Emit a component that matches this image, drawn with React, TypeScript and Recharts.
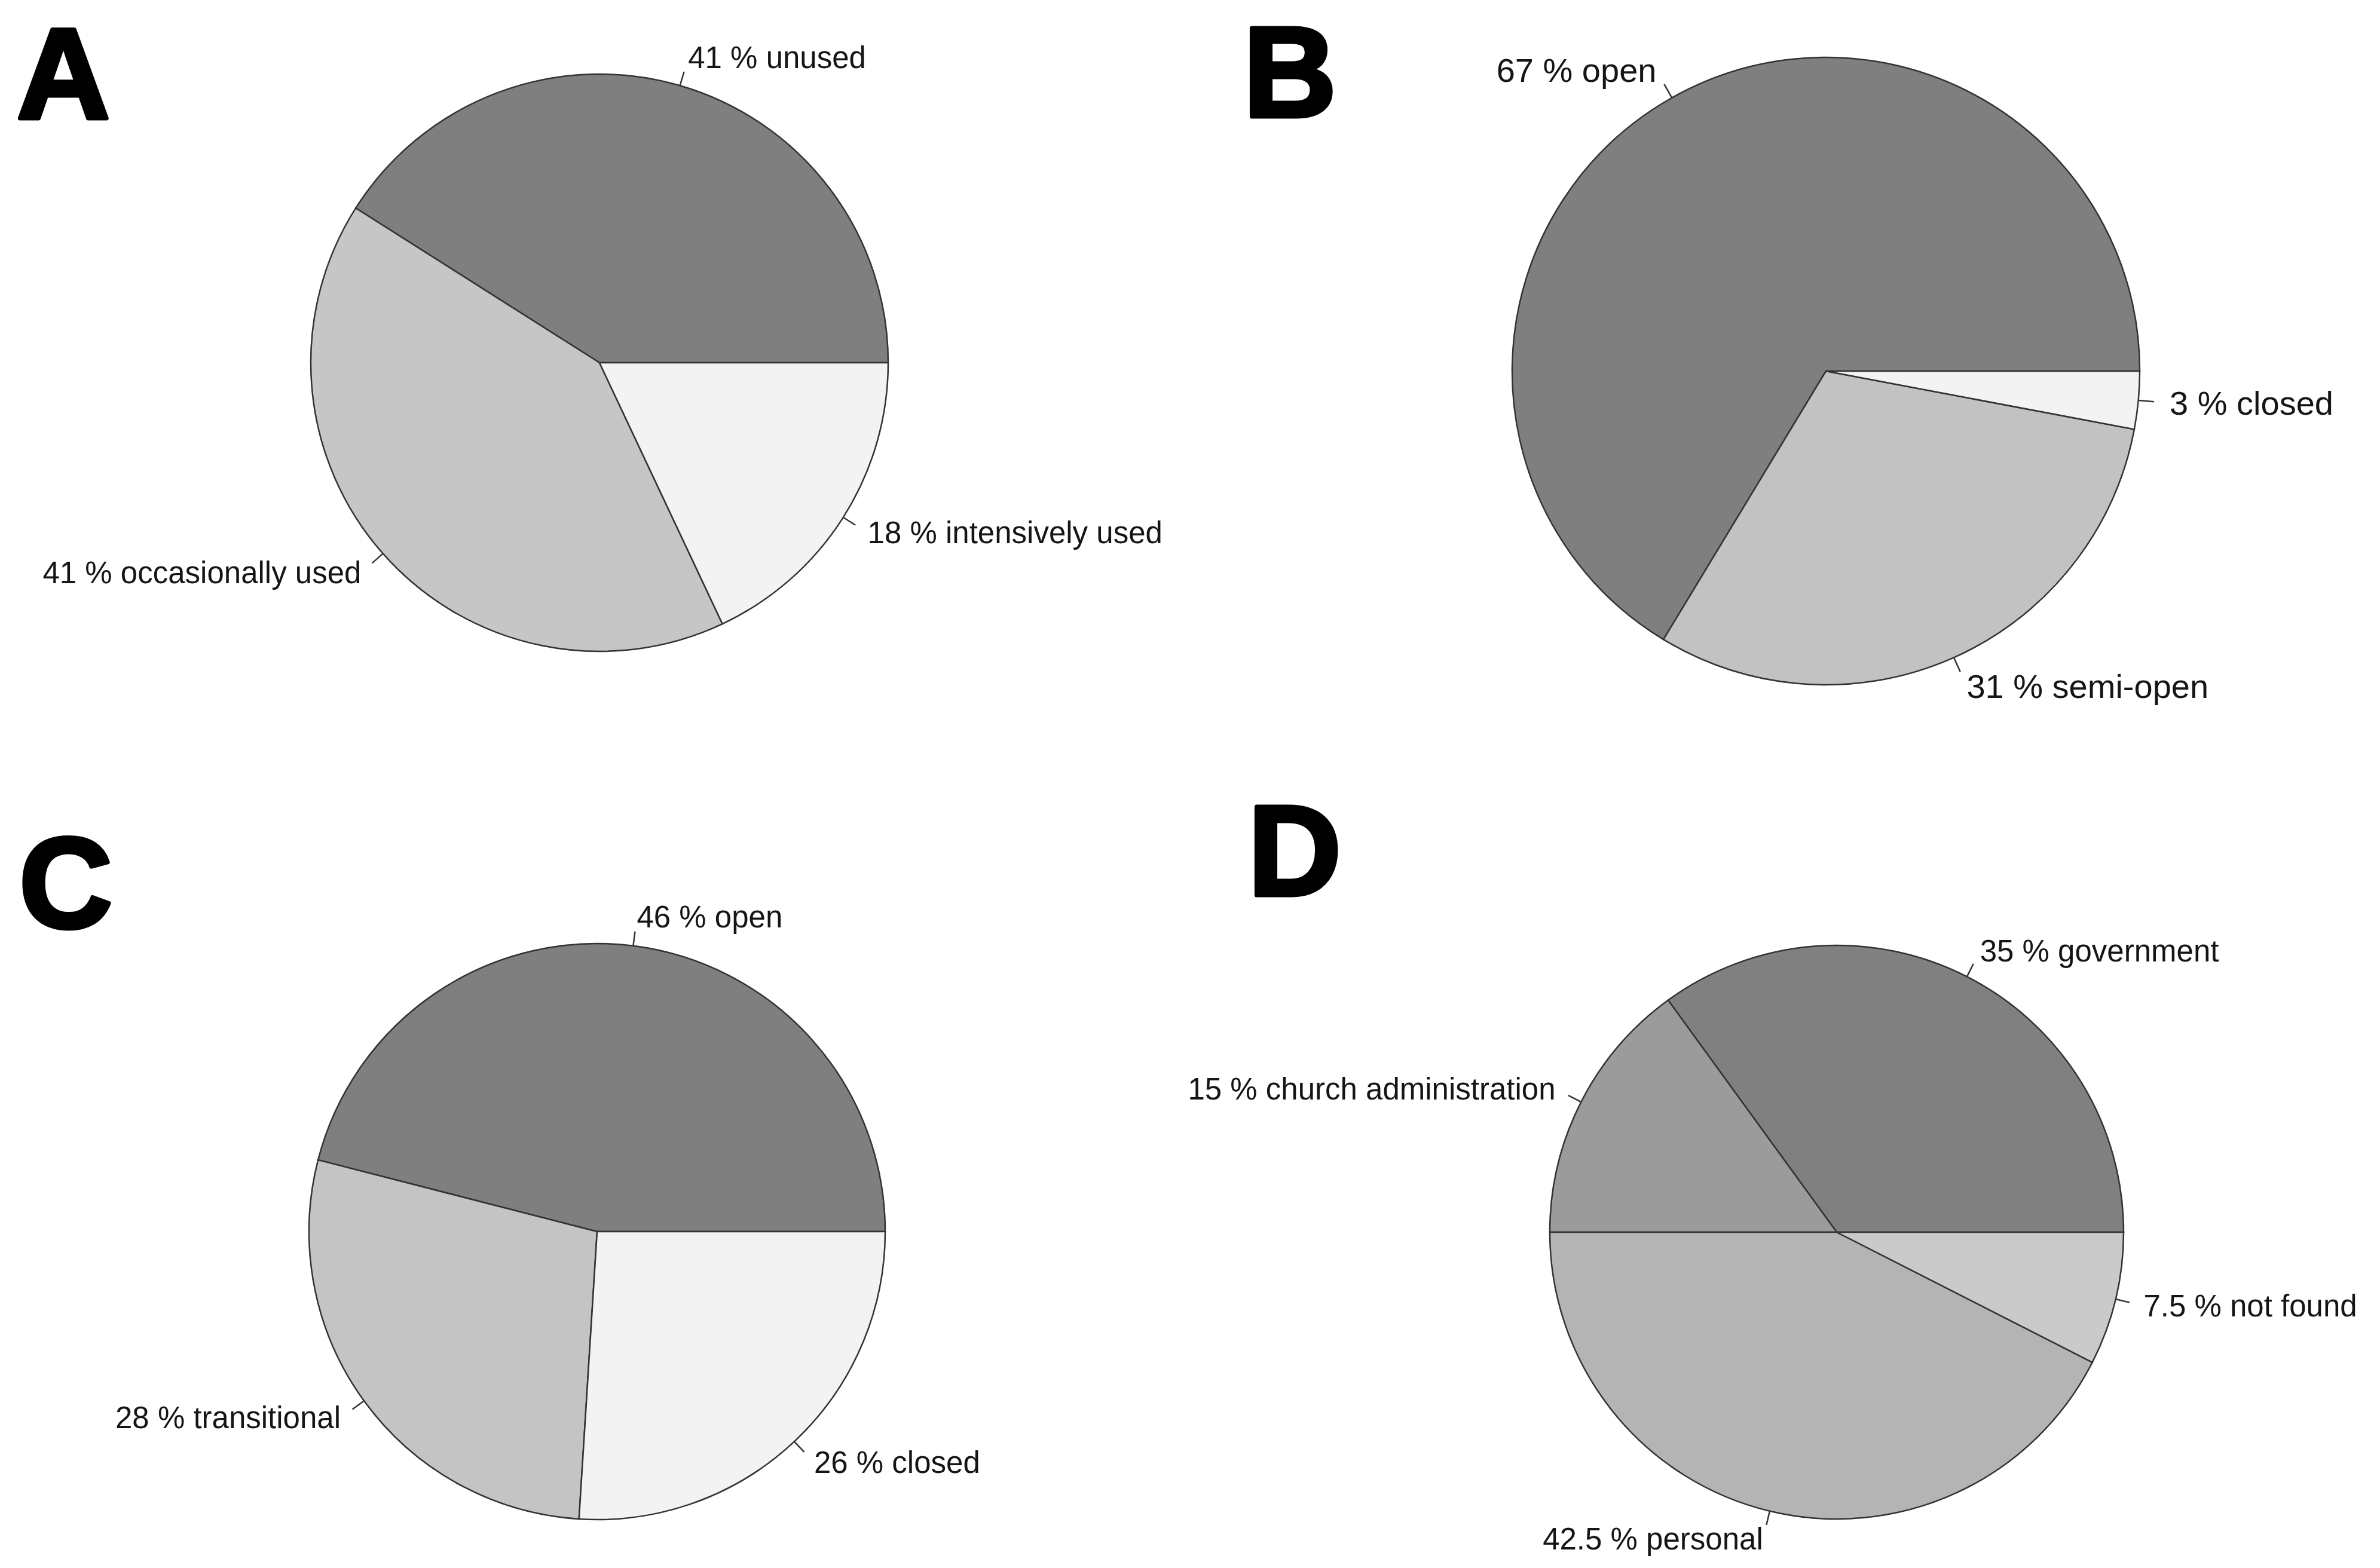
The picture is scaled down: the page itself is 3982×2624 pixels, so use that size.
import React from "react";
import { PieChart, Pie, Cell } from "recharts";

// ---- data ----
const labelsA = ["41 % unused", "41 % occasionally used", "18 % intensively used"];
const valuesA = [41, 41, 18];

const labelsB = ["67 % open", "31 % semi-open", "3 % closed"];
const valuesB = [67, 31, 3];

const labelsC = ["46 % open", "28 % transitional", "26 % closed"];
const valuesC = [46, 28, 26];

const labelsD = ["35 % government", "15 % church administration", "42.5 % personal", "7.5 % not found"];
const valuesD = [35, 15, 42.5, 7.5];

const panelLetters = ["A", "B", "C", "D"];

// ---- styles ----
const colorsA = ["#7f7f7f", "#c6c6c6", "#f3f3f3"];
const colorsB = ["#7f7f7f", "#c2c2c2", "#f3f3f3"];
const colorsC = ["#7f7f7f", "#c4c4c4", "#f3f3f3"];
const colorsD = ["#808080", "#9b9b9b", "#b4b4b4", "#cacaca"];

const W = 3982;
const H = 2624;
const FONT = "'Liberation Sans', Arial, sans-serif";
const EDGE = "#333333";

const build = (labels: string[], values: number[]) =>
  labels.map((label, i) => ({ label, value: values[i] }));

const RAD = Math.PI / 180;

const makeLabel = (fontSize: number) => (props: any) => {
  const { cx, cy, midAngle, outerRadius, name, payload } = props;
  const r = outerRadius * 1.1;
  const c = Math.cos(-midAngle * RAD);
  const s = Math.sin(-midAngle * RAD);
  const x = cx + r * c;
  const y = cy + r * s;
  const txt = (payload && payload.label) || name;
  return (
    <text
      x={x}
      y={y}
      textAnchor={c >= 0 ? "start" : "end"}
      dominantBaseline="central"
      fontFamily={FONT}
      fontSize={fontSize}
      fill="#151515"
    >
      {txt}
    </text>
  );
};

const renderLine = (props: any) => {
  const { cx, cy, midAngle, outerRadius } = props;
  const c = Math.cos(-midAngle * RAD);
  const s = Math.sin(-midAngle * RAD);
  const x1 = cx + outerRadius * c;
  const y1 = cy + outerRadius * s;
  const x2 = cx + outerRadius * 1.05 * c;
  const y2 = cy + outerRadius * 1.05 * s;
  return <path d={`M${x1},${y1}L${x2},${y2}`} stroke={EDGE} strokeWidth={2.5} fill="none" />;
};

const pies = [
  { data: build(labelsA, valuesA), colors: colorsA, cx: 1003, cy: 607, r: 483, fs: 51 },
  { data: build(labelsB, valuesB), colors: colorsB, cx: 3055, cy: 621, r: 525, fs: 56 },
  { data: build(labelsC, valuesC), colors: colorsC, cx: 999, cy: 2061, r: 482, fs: 51 },
  { data: build(labelsD, valuesD), colors: colorsD, cx: 3073, cy: 2062, r: 480, fs: 51 },
];

const letterPos = [
  { x: 28, y: 198 },
  { x: 2080, y: 195 },
  { x: 32, y: 1552 },
  { x: 2088, y: 1498 },
];

export default function App() {
  return (
    <div style={{ position: "absolute", left: 0, top: 0, width: W, height: H, background: "#ffffff" }}>
      <PieChart width={W} height={H} margin={{ top: 0, right: 0, bottom: 0, left: 0 }}>
        {pies.map((p, i) => (
          <Pie
            key={i}
            data={p.data}
            dataKey="value"
            nameKey="label"
            cx={p.cx}
            cy={p.cy}
            outerRadius={p.r}
            innerRadius={0}
            startAngle={0}
            endAngle={360}
            paddingAngle={0}
            stroke={EDGE}
            strokeWidth={2.5}
            label={makeLabel(p.fs)}
            labelLine={renderLine}
            isAnimationActive={false}
          >
            {p.data.map((d, j) => (
              <Cell key={j} fill={p.colors[j]} stroke={EDGE} strokeWidth={2.5} />
            ))}
          </Pie>
        ))}
      </PieChart>
      <svg
        width={W}
        height={H}
        style={{ position: "absolute", left: 0, top: 0, pointerEvents: "none" }}
      >
        {panelLetters.map((l, i) => (
          <text
            key={l}
            x={letterPos[i].x}
            y={letterPos[i].y}
            fontFamily={FONT}
            fontWeight="bold"
            fontSize={216}
            fill="#000"
            stroke="#000"
            strokeWidth={7}
            strokeLinejoin="round"
          >
            {l}
          </text>
        ))}
      </svg>
    </div>
  );
}
